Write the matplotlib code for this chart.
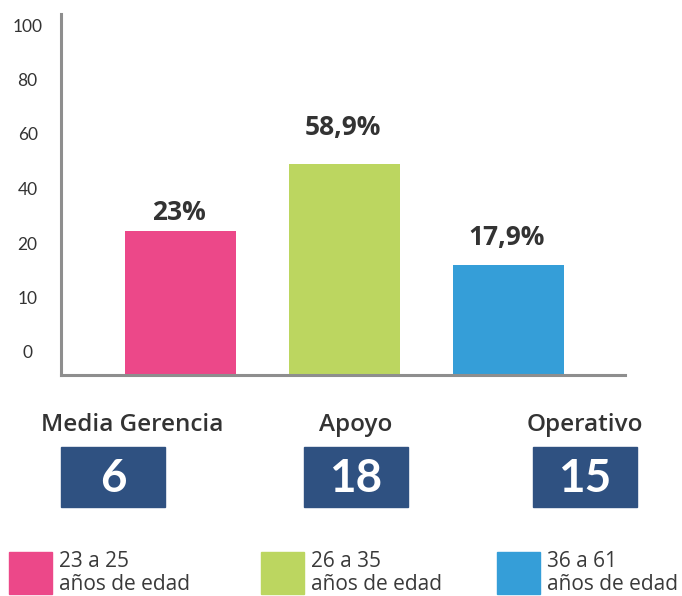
import matplotlib
matplotlib.use("Agg")
import matplotlib.pyplot as plt
from matplotlib.patches import Rectangle

# ---- data ----
categories = ["Media Gerencia", "Apoyo", "Operativo"]
bar_heights = [144, 211, 110]           # bar heights in axis units
bar_labels = ["23%", "58,9%", "17,9%"]
counts = ["6", "18", "15"]
tick_labels = ["0", "10", "20", "40", "60", "80", "100"]
legend_top = ["23 a 25", "26 a 35", "36 a 61"]
legend_bottom = ["años de edad", "años de edad", "años de edad"]
colors = ["#EC4889", "#BCD660", "#359ED8"]

# ---- styling / layout ----
label_gaps = [11, 29, 20]               # gap between bar top and its label (px)
W, H = 682, 596
SANS = "Open Sans"
TEXT = "#333333"
AXIS = "#8E8E8E"
BOX = "#2F5181"

fig = plt.figure(figsize=(W / 100, H / 100), dpi=100)

def fx(px):
    return px / W

def fy(py):
    return 1 - py / H

# main axes: left axis at x=61, baseline at y=375, top at y=14, right end at 625
ax = fig.add_axes([fx(61), fy(375), fx(625) - fx(61), (375 - 14) / H])
x = list(range(len(categories)))
ax.bar(x, bar_heights, width=0.677, color=colors, zorder=2)
ax.set_xlim(-0.729, 2.71)
ax.set_ylim(0, 361)

for xi, h, lab, g in zip(x, bar_heights, bar_labels, label_gaps):
    ax.annotate(lab, (xi, h), xytext=(-1.5, g * 0.72), textcoords="offset points",
                ha="center", va="baseline", fontsize=19, fontweight="bold",
                color=TEXT, family=SANS)

tick_pos = [23 + 54.5 * i for i in range(len(tick_labels))]
ax.set_yticks(tick_pos)
ax.set_yticklabels(tick_labels, fontsize=12.5, color=TEXT, family="Lato")
ax.tick_params(axis="y", length=0, pad=24)
for t in ax.get_yticklabels():
    t.set_horizontalalignment("center")
ax.set_xticks([])
for s in ["top", "right"]:
    ax.spines[s].set_visible(False)
for s in ["left", "bottom"]:
    ax.spines[s].set_color(AXIS)
    ax.spines[s].set_linewidth(2.2)

# category labels and count boxes
cat_centers = [132, 356, 585]
box_centers = [113, 356, 585]
for cx, bx, cat, n in zip(cat_centers, box_centers, categories, counts):
    fig.text(fx(cx), fy(431), cat, ha="center", va="baseline", fontsize=17.5,
             fontweight="semibold", color=TEXT, family=SANS)
    fig.patches.append(Rectangle((fx(bx - 52), fy(507)), 104 / W, 60 / H,
                                 transform=fig.transFigure, color=BOX))
    fig.text(fx(bx), fy(492), n, ha="center", va="baseline", fontsize=33,
             fontweight="bold", color="white", family="Lato")

# legend
leg_x = [9, 261, 497]
for lx, c, t1, t2 in zip(leg_x, colors, legend_top, legend_bottom):
    fig.patches.append(Rectangle((fx(lx), fy(594)), 43 / W, 42 / H,
                                 transform=fig.transFigure, color=c))
    fig.text(fx(lx + 50), fy(567), t1, ha="left", va="baseline", fontsize=15,
             color="#3a3a3a", family=SANS)
    fig.text(fx(lx + 50), fy(590), t2, ha="left", va="baseline", fontsize=15,
             color="#3a3a3a", family=SANS)

fig.savefig("out.png", dpi=100, facecolor="white")
